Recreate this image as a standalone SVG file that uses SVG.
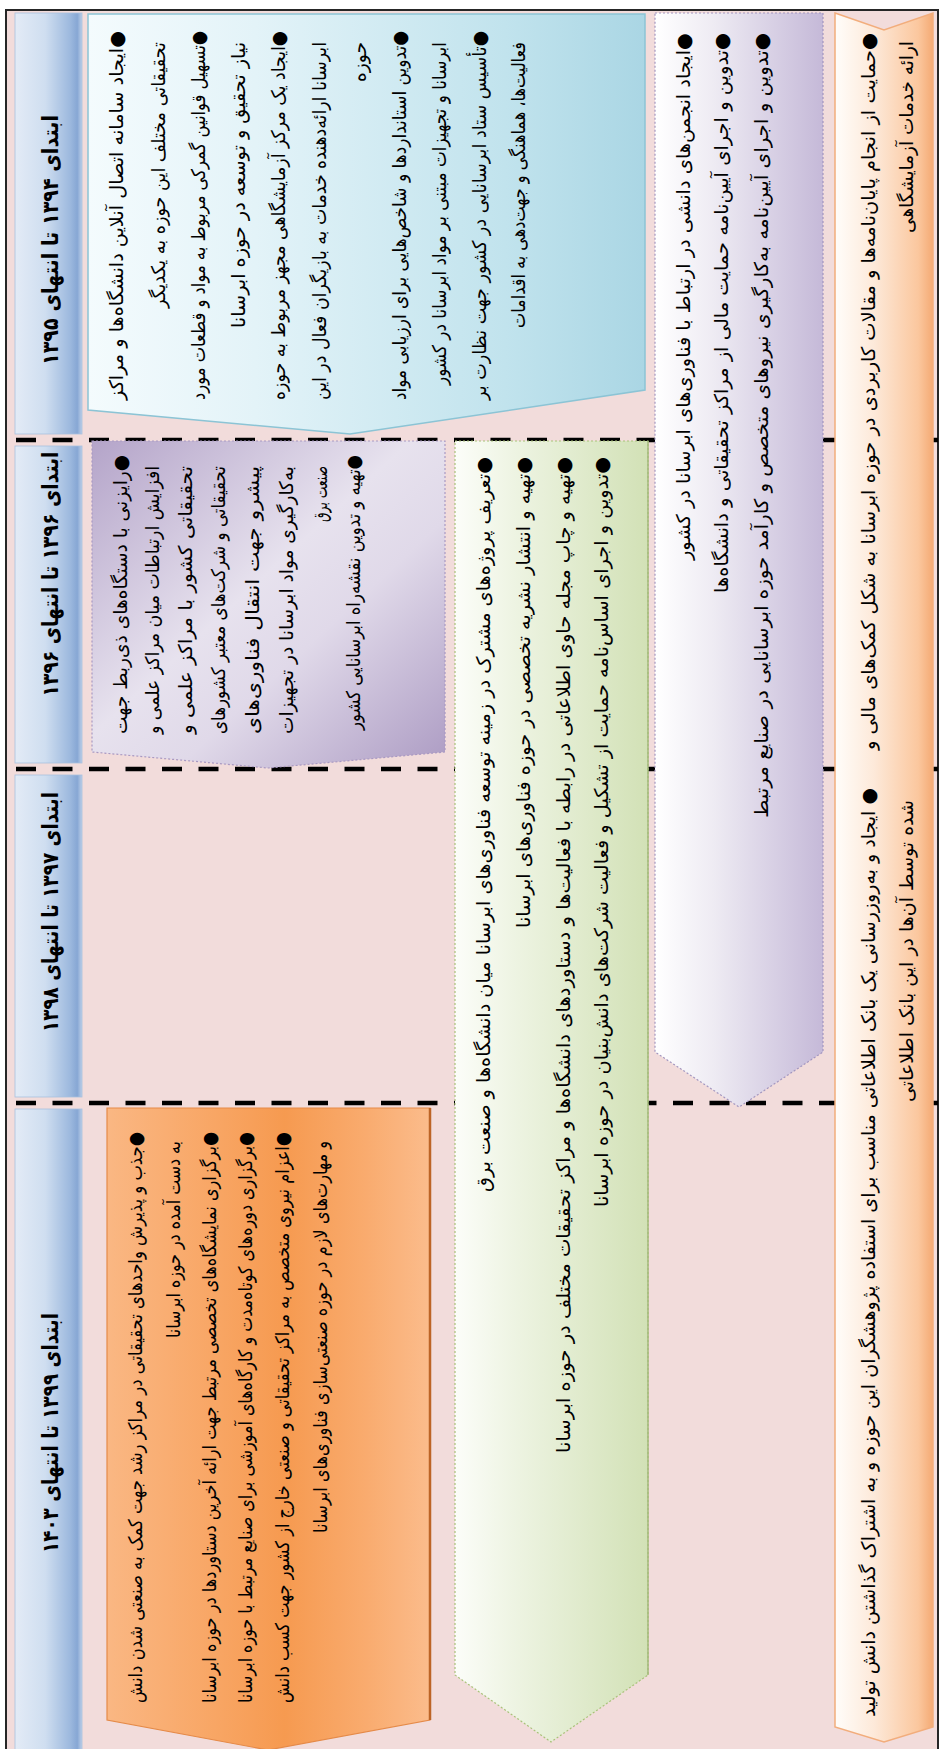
<svg xmlns="http://www.w3.org/2000/svg" width="942" height="1749" viewBox="0 0 942 1749">
  <defs>
    <linearGradient id="gHead" x1="0" y1="0" x2="1" y2="0">
      <stop offset="0" stop-color="#e3ebf6"/>
      <stop offset="0.45" stop-color="#cfdef0"/>
      <stop offset="0.82" stop-color="#9db9de"/>
      <stop offset="0.93" stop-color="#87a7d4"/>
      <stop offset="1" stop-color="#bccfe8"/>
    </linearGradient>
    <linearGradient id="gBlue" x1="0" y1="0" x2="1" y2="0">
      <stop offset="0" stop-color="#f4fbfd"/>
      <stop offset="0.3" stop-color="#e3f3f8"/>
      <stop offset="0.75" stop-color="#c1e3ed"/>
      <stop offset="1" stop-color="#aad6e4"/>
    </linearGradient>
    <linearGradient id="gPurpleA" x1="0" y1="0" x2="1" y2="1">
      <stop offset="0" stop-color="#b4a4c9"/>
      <stop offset="0.45" stop-color="#e7e2ee"/>
      <stop offset="0.62" stop-color="#e0d9e9"/>
      <stop offset="1" stop-color="#ac9bc3"/>
    </linearGradient>
    <linearGradient id="gGreen" x1="0" y1="0" x2="1" y2="0">
      <stop offset="0" stop-color="#fcfdf9"/>
      <stop offset="0.3" stop-color="#eef4e3"/>
      <stop offset="1" stop-color="#d2e1b6"/>
    </linearGradient>
    <linearGradient id="gPurpleB" x1="0" y1="0" x2="1" y2="0">
      <stop offset="0" stop-color="#ffffff"/>
      <stop offset="0.35" stop-color="#eeebf3"/>
      <stop offset="1" stop-color="#c5b9d8"/>
    </linearGradient>
    <linearGradient id="gPeach" x1="0" y1="0" x2="1" y2="0">
      <stop offset="0" stop-color="#fffdfa"/>
      <stop offset="0.4" stop-color="#fde9d9"/>
      <stop offset="0.85" stop-color="#fbc79e"/>
      <stop offset="1" stop-color="#f4aa74"/>
    </linearGradient>
    <linearGradient id="gOrange" x1="0" y1="0" x2="1" y2="0">
      <stop offset="0" stop-color="#fab783"/>
      <stop offset="0.35" stop-color="#f8a563"/>
      <stop offset="0.55" stop-color="#f69a50"/>
      <stop offset="0.8" stop-color="#f9ab6e"/>
      <stop offset="1" stop-color="#fbbc8c"/>
    </linearGradient>
    <style>
      .t { font-family: "DejaVu Sans", "Noto Sans", sans-serif; font-size: 19px; fill: #000; direction: rtl; text-anchor: start; }
      .h { font-family: "DejaVu Sans", "Noto Sans", sans-serif; font-size: 22px; font-weight: bold; fill: #000; direction: rtl; text-anchor: middle; }
      .sep { stroke: #000; stroke-width: 4.5; stroke-dasharray: 20 16.5; fill: none; }
      .cell { fill: url(#gHead); stroke: #a9c0df; stroke-width: 0.8; }
      .dotted { stroke-dasharray: 2 2; stroke-width: 1.2; }
    </style>
  </defs>

  <!-- page and frame -->
  <rect x="0" y="0" width="942" height="1749" fill="#ffffff"/>
  <rect id="frame" x="6" y="10" width="932" height="1745" fill="#f2dcdb" stroke="#262626" stroke-width="2"/>

  <!-- period separators -->
  <g id="connectors">
    <line class="sep" x1="16" y1="440" x2="938" y2="440"/>
    <line class="sep" x1="16" y1="769" x2="938" y2="769"/>
    <line class="sep" x1="16" y1="1103" x2="938" y2="1103"/>
  </g>

  <!-- period headers -->
  <g id="header-1394">
    <rect class="cell" x="15" y="13" width="67" height="421"/>
    <g transform="rotate(-90)"><text class="h" x="-240" y="58" textLength="250" lengthAdjust="spacingAndGlyphs">ابتدای ۱۳۹۴ تا انتهای ۱۳۹۵</text></g>
  </g>
  <g id="header-1396">
    <rect class="cell" x="15" y="446" width="67" height="317"/>
    <g transform="rotate(-90)"><text class="h" x="-574" y="58" textLength="245" lengthAdjust="spacingAndGlyphs">ابتدای ۱۳۹۶ تا انتهای ۱۳۹۶</text></g>
  </g>
  <g id="header-1397">
    <rect class="cell" x="15" y="775" width="67" height="322"/>
    <g transform="rotate(-90)"><text class="h" x="-912" y="58" textLength="240" lengthAdjust="spacingAndGlyphs">ابتدای ۱۳۹۷ تا انتهای ۱۳۹۸</text></g>
  </g>
  <g id="header-1399">
    <rect class="cell" x="15" y="1109" width="67" height="650"/>
    <g transform="rotate(-90)"><text class="h" x="-1433" y="58" textLength="240" lengthAdjust="spacingAndGlyphs">ابتدای ۱۳۹۹ تا انتهای ۱۴۰۳</text></g>
  </g>

  <!-- 1394-1395: infrastructure -->
  <g id="box-infrastructure">
    <polygon points="88,14 645,14 645,390 350,434 88,410" fill="url(#gBlue)" stroke="#8cc4d5" stroke-width="1.5"/>
    <g transform="rotate(-90)">
      <text class="t" x="-31" y="123" textLength="369" lengthAdjust="spacingAndGlyphs">●ایجاد سامانه اتصال آنلاین دانشگاه&#x200C;ها و مراکز</text>
      <text class="t" x="-42" y="165" textLength="266" lengthAdjust="spacingAndGlyphs">تحقیقاتی مختلف این حوزه به یکدیگر</text>
      <text class="t" x="-31" y="205" textLength="369" lengthAdjust="spacingAndGlyphs">●تسهیل قوانین گمرکی مربوط به مواد و قطعات مورد</text>
      <text class="t" x="-42" y="245" textLength="286" lengthAdjust="spacingAndGlyphs">نیاز تحقیق و توسعه در حوزه ابرسانا</text>
      <text class="t" x="-31" y="285" textLength="369" lengthAdjust="spacingAndGlyphs">●ایجاد یک مرکز آزمایشگاهی مجهز مربوط به حوزه</text>
      <text class="t" x="-42" y="326" textLength="358" lengthAdjust="spacingAndGlyphs">ابرسانا ارائه&#x200C;دهنده خدمات به بازیگران فعال در این</text>
      <text class="t" x="-42" y="366" textLength="40" lengthAdjust="spacingAndGlyphs">حوزه</text>
      <text class="t" x="-31" y="406" textLength="369" lengthAdjust="spacingAndGlyphs">●تدوین استانداردها و شاخص&#x200C;هایی برای ارزیابی مواد</text>
      <text class="t" x="-42" y="446" textLength="343" lengthAdjust="spacingAndGlyphs">ابرسانا و تجهیزات مبتنی بر مواد ابرسانا در کشور</text>
      <text class="t" x="-31" y="486" textLength="369" lengthAdjust="spacingAndGlyphs">●تأسیس ستاد ابرسانایی در کشور جهت نظارت بر</text>
      <text class="t" x="-42" y="525" textLength="286" lengthAdjust="spacingAndGlyphs">فعالیت&#x200C;ها، هماهنگی و جهت&#x200C;دهی به اقدامات</text>
    </g>
  </g>

  <!-- 1396: cooperation -->
  <g id="box-cooperation">
    <polygon points="92,441 445,441 445,752 268,768 92,752" fill="url(#gPurpleA)" stroke="#a999c2" class="dotted"/>
    <g transform="rotate(-90)">
      <text class="t" x="-455" y="127" textLength="279" lengthAdjust="spacingAndGlyphs">●رایزنی با دستگاه&#x200C;های ذی&#x200C;ربط جهت</text>
      <text class="t" x="-466" y="159" textLength="268" lengthAdjust="spacingAndGlyphs">افزایش ارتباطات میان مراکز علمی و</text>
      <text class="t" x="-466" y="192" textLength="268" lengthAdjust="spacingAndGlyphs">تحقیقاتی کشور با مراکز علمی و</text>
      <text class="t" x="-466" y="225" textLength="268" lengthAdjust="spacingAndGlyphs">تحقیقاتی و شرکت&#x200C;های معتبر کشورهای</text>
      <text class="t" x="-466" y="259" textLength="268" lengthAdjust="spacingAndGlyphs">پیشرو جهت انتقال فناوری&#x200C;های</text>
      <text class="t" x="-466" y="293" textLength="268" lengthAdjust="spacingAndGlyphs">به&#x200C;کارگیری مواد ابرسانا در تجهیزات</text>
      <text class="t" x="-466" y="327" textLength="56" lengthAdjust="spacingAndGlyphs">صنعت برق</text>
      <text class="t" x="-455" y="360" textLength="275" lengthAdjust="spacingAndGlyphs">●تهیه و تدوین نقشه&#x200C;راه ابرسانایی کشور</text>
    </g>
  </g>

  <!-- 1396-1403: joint projects and publications -->
  <g id="box-projects">
    <polygon points="455,441 648,441 648,1675 551,1742 455,1675" fill="url(#gGreen)" stroke="#a9c27a" class="dotted"/>
    <line x1="648" y1="441" x2="648" y2="1675" stroke="#a3ba7b" stroke-width="1.5"/>
    <g transform="rotate(-90)">
      <text class="t" x="-457" y="490" textLength="735" lengthAdjust="spacingAndGlyphs">●تعریف پروژه&#x200C;های مشترک در زمینه توسعه فناوری&#x200C;های ابرسانا میان دانشگاه&#x200C;ها و صنعت برق</text>
      <text class="t" x="-457" y="530" textLength="471" lengthAdjust="spacingAndGlyphs">●تهیه و انتشار نشریه تخصصی در حوزه فناوری&#x200C;های ابرسانا</text>
      <text class="t" x="-457" y="570" textLength="996" lengthAdjust="spacingAndGlyphs">●تهیه و چاپ مجله حاوی اطلاعاتی در رابطه با فعالیت&#x200C;ها و دستاوردهای دانشگاه&#x200C;ها و مراکز تحقیقات مختلف در حوزه ابرسانا</text>
      <text class="t" x="-457" y="608" textLength="750" lengthAdjust="spacingAndGlyphs">●تدوین و اجرای اساس&#x200C;نامه حمایت از تشکیل و فعالیت شرکت&#x200C;های دانش&#x200C;بنیان در حوزه ابرسانا</text>
    </g>
  </g>

  <!-- 1394-1398: regulations and associations -->
  <g id="box-regulations">
    <polygon points="655,13 823,13 823,1052 739,1107 655,1052" fill="url(#gPurpleB)" stroke="#a396bf" class="dotted"/>
    <g transform="rotate(-90)">
      <text class="t" x="-33" y="690" textLength="527" lengthAdjust="spacingAndGlyphs">●ایجاد انجمن&#x200C;های دانشی در ارتباط با فناوری&#x200C;های ابرسانا در کشور</text>
      <text class="t" x="-33" y="728" textLength="560" lengthAdjust="spacingAndGlyphs">●تدوین و اجرای آیین&#x200C;نامه حمایت مالی از مراکز تحقیقاتی و دانشگاه&#x200C;ها</text>
      <text class="t" x="-33" y="768" textLength="785" lengthAdjust="spacingAndGlyphs">●تدوین و اجرای آیین&#x200C;نامه به&#x200C;کارگیری نیروهای متخصص و کارآمد حوزه ابرسانایی در صنایع مرتبط</text>
    </g>
  </g>

  <!-- 1394-1403: research support -->
  <g id="box-research">
    <polygon points="835,13 884,30 933,13 933,1727 884,1742 835,1727" fill="url(#gPeach)" stroke="#f2ad7c" stroke-width="1.5"/>
    <g transform="rotate(-90)">
      <text class="t" x="-33" y="875" textLength="717" lengthAdjust="spacingAndGlyphs">●حمایت از انجام پایان&#x200C;نامه&#x200C;ها و مقالات کاربردی در حوزه ابرسانا به شکل کمک&#x200C;های مالی و</text>
      <text class="t" x="-41" y="913" textLength="192" lengthAdjust="spacingAndGlyphs">ارائه خدمات آزمایشگاهی</text>
      <text class="t" x="-788" y="875" textLength="929" lengthAdjust="spacingAndGlyphs">● ایجاد و به&#x200C;روزرسانی یک بانک اطلاعاتی مناسب برای استفاده پژوهشگران این حوزه و به اشتراک گذاشتن دانش تولید</text>
      <text class="t" x="-800" y="913" textLength="302" lengthAdjust="spacingAndGlyphs">شده توسط آن&#x200C;ها در این بانک اطلاعاتی</text>
    </g>
  </g>

  <!-- 1399-1403: commercialisation -->
  <g id="box-commercialisation">
    <polygon points="107,1108 430,1108 430,1720 268,1750 107,1720" fill="url(#gOrange)" stroke="#e58a48" stroke-width="1.2"/>
    <line x1="430" y1="1108" x2="430" y2="1720" stroke="#bd6426" stroke-width="2.5"/>
    <g transform="rotate(-90)">
      <text class="t" x="-1132" y="142" textLength="571" lengthAdjust="spacingAndGlyphs">●جذب و پذیرش واحدهای تحقیقاتی در مراکز رشد جهت کمک به صنعتی شدن دانش</text>
      <text class="t" x="-1141" y="180" textLength="197" lengthAdjust="spacingAndGlyphs">به دست آمده در حوزه ابرسانا</text>
      <text class="t" x="-1132" y="216" textLength="571" lengthAdjust="spacingAndGlyphs">●برگزاری نمایشگاه&#x200C;های تخصصی مرتبط جهت ارائه آخرین دستاوردها در حوزه ابرسانا</text>
      <text class="t" x="-1132" y="252" textLength="571" lengthAdjust="spacingAndGlyphs">●برگزاری دوره&#x200C;های کوتاه&#x200C;مدت و کارگاه&#x200C;های آموزشی برای صنایع مرتبط با حوزه ابرسانا</text>
      <text class="t" x="-1132" y="289" textLength="571" lengthAdjust="spacingAndGlyphs">●اعزام نیروی متخصص به مراکز تحقیقاتی و صنعتی خارج از کشور جهت کسب دانش</text>
      <text class="t" x="-1141" y="327" textLength="392" lengthAdjust="spacingAndGlyphs">و مهارت&#x200C;های لازم در حوزه صنعتی&#x200C;سازی فناوری&#x200C;های ابرسانا</text>
    </g>
  </g>
</svg>
